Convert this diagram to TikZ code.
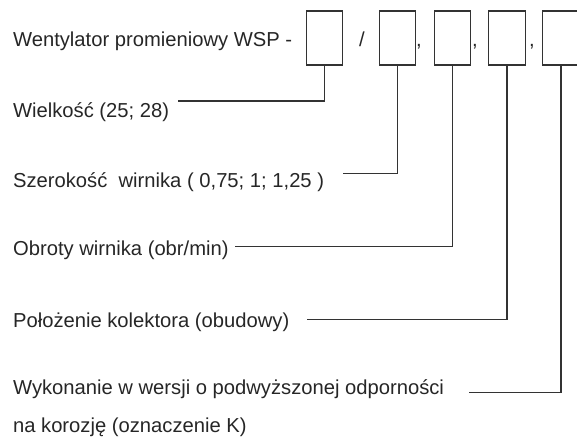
\documentclass[tikz,border=0pt]{standalone}
\usepackage{fontspec}
\setmainfont{Liberation Sans}
\definecolor{textgray}{HTML}{262626}
\definecolor{linegray}{HTML}{333333}
\tikzset{
  cell/.style={draw=linegray, line width=0.7pt, minimum width=18.25pt, minimum height=27pt, inner sep=0pt},
  lbl/.style={anchor=base west, inner sep=0pt, text=textgray, font=\fontsize{10.1}{12}\selectfont},
  sepsign/.style={lbl, anchor=base},
  lead/.style={draw=linegray, line width=0.7pt},
}
\begin{document}
\begin{tikzpicture}[x=0.5pt,y=-0.5pt]
      \useasboundingbox (0,0) rectangle (577,437);
      \node[lbl] (wsp) at (12.7,47) {Wentylator promieniowy WSP -};
      \node[cell] (b1) at (324.5,38) {};
      \node[cell] (b2) at (397.5,38) {};
      \node[cell] (b3) at (452.5,38) {};
      \node[cell] (b4) at (507,38) {};
      \node[cell] (b5) at (561,38) {};
      \node[sepsign] (sl) at (362,47) {/};
      \node[sepsign] (c1) at (419,47) {,};
      \node[sepsign] (c2) at (475,47) {,};
      \node[sepsign] (c3) at (532,47) {,};
      \node[lbl] (wlk) at (12.7,118) {Wielkość (25; 28)};
      \node[lbl] (szer) at (12.7,187.5) {Szerokość\ \ wirnika ( 0,75; 1; 1,25 )};
      \node[lbl] (obr) at (12.7,256) {Obroty wirnika (obr/min)};
      \node[lbl] (pol) at (12.7,328) {Położenie kolektora (obudowy)};
      \node[lbl] (wyk) at (12.7,394) {Wykonanie w wersji o podwyższonej odporności};
      \node[lbl] (wyk2) at (12.7,432) {na korozję (oznaczenie K)};
      \coordinate (wlkend) at (178,101);
      \coordinate (szerend) at (342.7,173.3);
      \coordinate (obrend) at (235,246.7);
      \coordinate (polend) at (307.3,319.3);
      \coordinate (wykend) at (469,392.7);
      \begin{scope}[lead]
        \draw (b1.south) |- (wlkend);
        \draw (b2.south) |- (szerend);
        \draw (b3.south) |- (obrend);
        \draw (b4.south) |- (polend);
        \draw (b5.south) |- (wykend);
      \end{scope}
    \end{tikzpicture}
\end{document}
